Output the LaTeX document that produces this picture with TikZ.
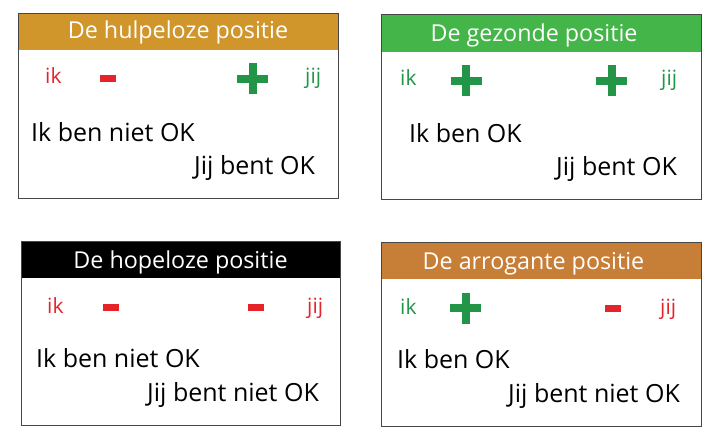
\documentclass[tikz,border=0pt]{standalone}
\usepackage{fontspec}
\setmainfont{Open Sans}
\definecolor{gold}{RGB}{208,150,43}
\definecolor{hgreen}{RGB}{68,181,73}
\definecolor{hbrown}{RGB}{199,126,55}
\definecolor{okred}{RGB}{229,36,42}
\definecolor{okgreen}{RGB}{34,150,70}
\definecolor{frame}{RGB}{70,70,70}
\tikzset{
  panel/.style={draw=frame, line width=0.9pt},
  title/.style={anchor=base, text=white, font=\fontsize{23.3}{23.3}\selectfont, inner sep=0pt},
  who/.style={anchor=base west, font=\fontsize{21}{21}\selectfont, inner sep=0pt},
  say/.style={anchor=base west, font=\fontsize{25}{25}\selectfont, inner sep=0pt, text=black},
  minusbar/.style={rectangle, fill=okred, inner sep=0pt, minimum width=16pt, minimum height=7pt},
  plusbar/.style={rectangle, fill=okgreen, inner sep=0pt},
}
\newcommand{\plusmark}[2]{%
  \node[plusbar, minimum width=31pt, minimum height=8pt] (#1h) at (#2) {};
  \node[plusbar, minimum width=8pt, minimum height=31pt] (#1v) at (#2) {};}
\begin{document}
\begin{tikzpicture}[x=1pt,y=-1pt]
\useasboundingbox (0,0) rectangle (727,438);
% ---- Box 1
\fill[gold] (18.5,13.5) rectangle (338,50);
\draw[panel] (18.5,13.5) rectangle (338,198);
\node[title] (t1) at (178,39) {De hulpeloze positie};
\node[who, text=okred] (ik1) at (45,84) {ik};
\node[minusbar] (m1) at (108,78.5) {};
\plusmark{p1}{252.5,79}
\node[who, text=okgreen] (jij1) at (305,84) {jij};
\node[say] (a1) at (31,142) {Ik ben niet OK};
\node[say] (b1) at (194,175) {Jij bent OK};
% ---- Box 2
\fill[hgreen] (381,14) rectangle (701,52);
\draw[panel] (381,14) rectangle (701,199);
\node[title] (t2) at (534,41.5) {De gezonde positie};
\node[who, text=okgreen] (ik2) at (400,86) {ik};
\plusmark{p2}{466,81}
\plusmark{p3}{611.5,81}
\node[who, text=okgreen] (jij2) at (661,86) {jij};
\node[say] (a2) at (409,143) {Ik ben OK};
\node[say] (b2) at (556,176) {Jij bent OK};
% ---- Box 3
\fill[black] (21,241) rectangle (340,278);
\draw[panel] (21,241) rectangle (340,425);
\node[title] (t3) at (180.5,268) {De hopeloze positie};
\node[who, text=okred] (ik3) at (47,313) {ik};
\node[minusbar] (m3) at (110.5,307) {};
\node[minusbar] (m4) at (256,307) {};
\node[who, text=okred] (jij3) at (307,313) {jij};
\node[say] (a3) at (36,367) {Ik ben niet OK};
\node[say] (b3) at (147,401) {Jij bent niet OK};
% ---- Box 4
\fill[hbrown] (381,242) rectangle (701,279);
\draw[panel] (381,242) rectangle (701,426);
\node[title] (t4) at (533.5,269) {De arrogante positie};
\node[who, text=okgreen] (ik4) at (400,314) {ik};
\plusmark{p4}{465.5,308}
\node[minusbar] (m5) at (612.5,308) {};
\node[who, text=okred] (jij4) at (660,314) {jij};
\node[say] (a4) at (397,368) {Ik ben OK};
\node[say] (b4) at (508,402) {Jij bent niet OK};
\end{tikzpicture}
\end{document}
